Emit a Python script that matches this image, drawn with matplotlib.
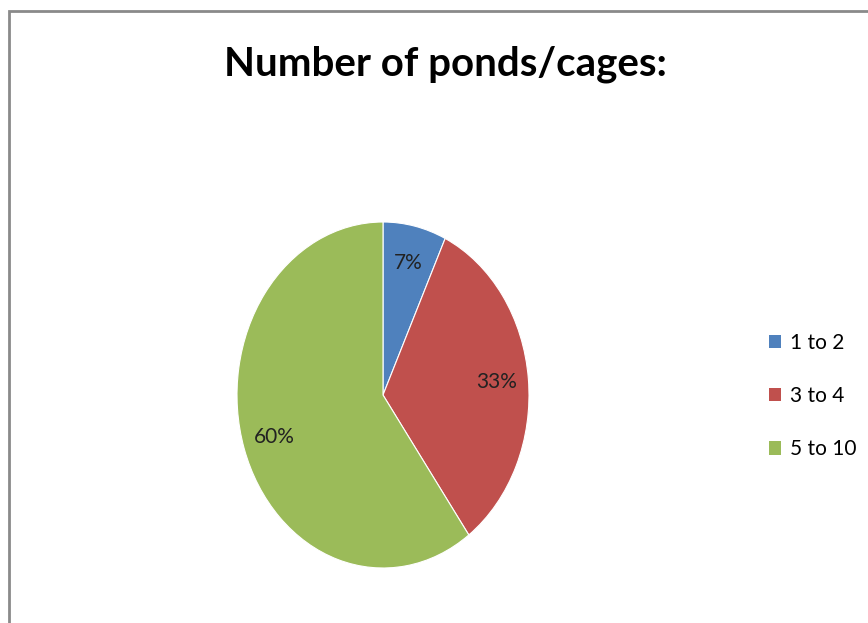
import matplotlib

matplotlib.use("Agg")

import matplotlib.pyplot as plt  # noqa: E402
from matplotlib.patches import Patch, Rectangle  # noqa: E402

TITLE = "Number of ponds/cages:"
categories = ["1 to 2", "3 to 4", "5 to 10"]
shares = [7, 33, 60]
colors = ["#4F81BD", "#C0504D", "#9BBB59"]

W, H = 868, 623
plt.rcParams["font.family"] = ["Lato", "DejaVu Sans"]

fig = plt.figure(figsize=(W / 100, H / 100), dpi=100)

# chart frame (cropped screenshot: only left and top edges visible)
fig.patches.append(Rectangle((8.5 / W, -0.1), 1.2, (H - 10.5) / H + 0.1,
                             transform=fig.transFigure, fill=False,
                             edgecolor="#8a8a8a", linewidth=2))

# pie is drawn slightly stretched vertically, as in the original
ax = fig.add_axes([237 / W, (H - 568) / H, 292 / W, 346 / H])
wedges, _, autotexts = ax.pie(
    shares, colors=colors, startangle=90, counterclock=False,
    autopct="%d%%", pctdistance=0.78,
    wedgeprops=dict(edgecolor="white", linewidth=0.8),
    textprops=dict(fontsize=15, color="#222222"),
)
ax.set_aspect("auto")
ax.set_xlim(-1, 1)
ax.set_ylim(-1, 1)
ax.set_axis_off()

fig.text(445 / W, 1 - 64 / H, TITLE, ha="center", va="center",
         fontsize=29, fontweight="bold", color="black")

handles = [Patch(facecolor=c, edgecolor="none") for c in colors]
fig.legend(handles, categories, loc="center left",
           bbox_to_anchor=(750 / W, 1 - 396 / H), frameon=False,
           fontsize=15, handlelength=0.6, handleheight=0.6,
           handletextpad=0.4, labelspacing=1.6)

fig.savefig("out.png", dpi=100)
